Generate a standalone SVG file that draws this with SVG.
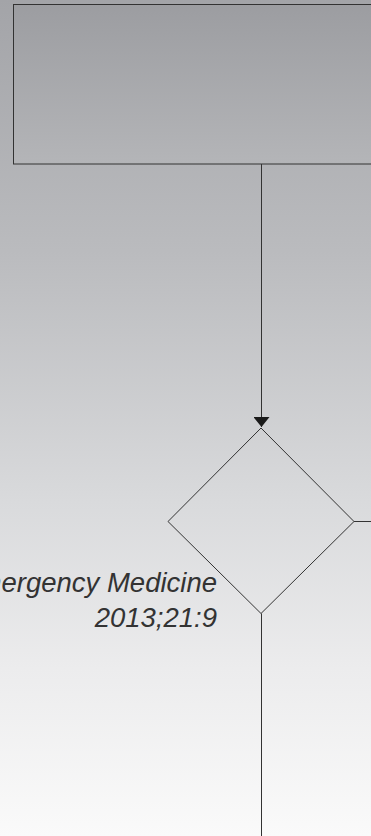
<svg xmlns="http://www.w3.org/2000/svg" width="371" height="836" viewBox="0 0 371 836">
  <defs>
    <linearGradient id="bg" x1="0" y1="0" x2="0" y2="1">
      <stop offset="0" stop-color="#a3a4a8"/>
      <stop offset="0.3" stop-color="#babbbe"/>
      <stop offset="0.6" stop-color="#d9dadc"/>
      <stop offset="0.8" stop-color="#ececed"/>
      <stop offset="1" stop-color="#fafafa"/>
    </linearGradient>
    <linearGradient id="boxfill" x1="0" y1="0" x2="0" y2="1">
      <stop offset="0" stop-color="#9c9da1"/>
      <stop offset="1" stop-color="#b4b5b8"/>
    </linearGradient>
    <marker id="arrow" viewBox="0 0 10 16" refX="10" refY="8" markerWidth="10" markerHeight="16" markerUnits="userSpaceOnUse" orient="auto">
      <path d="M0,0 L10,8 L0,16 Z" fill="#1a1a1a"/>
    </marker>
    <style>
      .node { stroke: #333; stroke-width: 1; }
      .conn { stroke: #333; stroke-width: 1; fill: none; }
      .label { font-family: "Liberation Sans", Arial, sans-serif; font-style: italic; font-size: 27.5px; fill: #333; text-anchor: end; }
    </style>
  </defs>
  <rect x="0" y="0" width="371" height="836" fill="url(#bg)"/>
  <g id="box1">
    <rect class="node" x="13.5" y="4.5" width="370" height="159.5" fill="url(#boxfill)"/>
  </g>
  <g id="decision1">
    <polygon class="node" points="261,428 354,521.5 261,613.5 168,521.5" fill="none"/>
  </g>
  <g id="citation">
    <text class="label" x="217" y="592">Emergency Medicine</text>
    <text class="label" x="217" y="627">2013;21:9</text>
  </g>
  <g id="connectors">
    <line class="conn" x1="261.5" y1="164" x2="261.5" y2="427" marker-end="url(#arrow)"/>
    <line class="conn" x1="354" y1="521.5" x2="371" y2="521.5"/>
    <line class="conn" x1="261.5" y1="613.5" x2="261.5" y2="836"/>
  </g>
</svg>
